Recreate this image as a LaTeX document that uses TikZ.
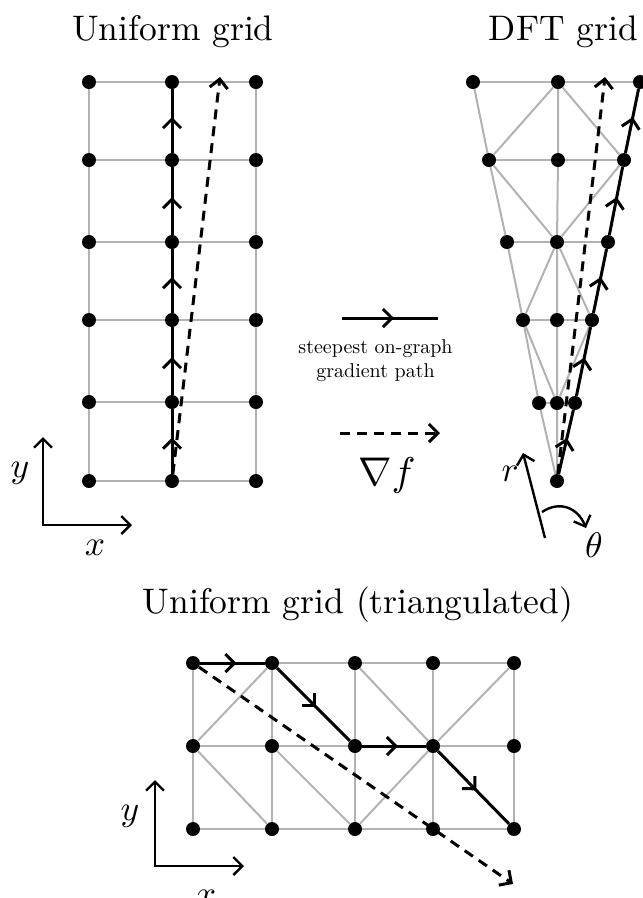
\documentclass[tikz,border=0pt]{standalone}
\usetikzlibrary{arrows.meta,decorations.markings}
\tikzset{
  chev/.tip={Straight Barb[length=9pt,width=18pt]},
  dot/.style={circle,fill=black,inner sep=0pt,minimum size=14pt},
  edge/.style={draw=black!30,line width=2pt},
  route/.style={draw=black,line width=3pt},
  midmark/.style={postaction={decorate},decoration={markings,mark=at position 0.5 with {\arrow[xshift=4pt]{chev}}}},
  dashline/.style={draw=black,line width=3pt,dash pattern=on 10pt off 7pt,-{chev}},
  axis/.style={draw=black,line width=2.4pt},
  ttl/.style={font=\normalsize,scale=3.55,inner sep=0pt},
  mlab/.style={font=\normalsize,scale=3.55,inner sep=0pt},
  legtext/.style={font=\normalsize,scale=2.0,align=center,inner sep=0pt},
}
\begin{document}
\begin{tikzpicture}[x=1pt,y=-1pt]
\useasboundingbox (0,0) rectangle (643,898);

% ---------- titles
\node[ttl,anchor=base] (title1) at (173,40) {Uniform grid};
\node[ttl,anchor=base] (title2) at (563.5,40) {DFT grid};
\node[ttl,anchor=base] (title3) at (358,613) {Uniform grid (triangulated)};

% ---------- uniform grid
\foreach \c/\x in {a/89,b/172,c/256}
  \foreach \r/\y in {1/82,2/160,3/242,4/320,5/402,6/481}
    \node[dot] (u\c\r) at (\x,\y) {};
\foreach \r in {1,...,6}
  \draw[edge] (ua\r) -- (ub\r) -- (uc\r);
\foreach \c in {a,b,c}
  \foreach \r/\s in {1/2,2/3,3/4,4/5,5/6}
    \draw[edge] (u\c\r) -- (u\c\s);
\foreach \r/\s in {6/5,5/4,4/3,3/2,2/1}
  \draw[route,midmark] (ub\r) -- (ub\s);
\coordinate (utip) at (220,77);
\draw[dashline] (ub6) -- (utip);

% axes (top left)
\coordinate (ao) at (43,525);
\coordinate (ay) at (43,437);
\coordinate (ax) at (132,525);
\draw[axis,{chev}-{chev}] (ay) -- (ao) -- (ax);
\node[mlab] (ylab) at (20,473) {$y$};
\node[mlab] (xlab) at (95,548) {$x$};

% ---------- DFT grid
\node[dot] (d1L) at (473,82) {};
\node[dot] (d1C) at (558,82) {};
\node[dot] (d1R) at (640,82) {};
\node[dot] (d2L) at (489,160) {};
\node[dot] (d2C) at (558,160) {};
\node[dot] (d2R) at (624,160) {};
\node[dot] (d3L) at (507,242) {};
\node[dot] (d3C) at (557,242) {};
\node[dot] (d3R) at (608,242) {};
\node[dot] (d4L) at (523,320) {};
\node[dot] (d4C) at (557,320) {};
\node[dot] (d4R) at (592,320) {};
\node[dot] (d5L) at (539,403) {};
\node[dot] (d5C) at (557,403) {};
\node[dot] (d5R) at (575,403) {};
\node[dot] (d6) at (557,481) {};
\foreach \r in {1,...,5}
  \draw[edge] (d\r L) -- (d\r C) -- (d\r R);
\draw[edge] (d1L) -- (d2L) -- (d3L) -- (d4L) -- (d5L) -- (d6);
\draw[edge] (d1C) -- (d2C) -- (d3C) -- (d4C) -- (d5C) -- (d6);
\draw[edge] (d1R) -- (d2R) -- (d3R) -- (d4R) -- (d5R) -- (d6);
\draw[edge] (d2L) -- (d1C) -- (d2R);
\draw[edge] (d2L) -- (d3C) -- (d2R);
\draw[edge] (d4L) -- (d3C) -- (d4R);
\draw[edge] (d4L) -- (d5C) -- (d4R);
\draw[route,midmark] (d6) -- (d5R);
\draw[route,midmark] (d5R) -- (d4R);
\draw[route,midmark] (d4R) -- (d3R);
\draw[route,midmark] (d3R) -- (d2R);
\draw[route,midmark] (d2R) -- (d1R);
\coordinate (dtip) at (605,77);
\draw[dashline] (d6) -- (dtip);

% polar axes
\coordinate (rb) at (545,538);
\coordinate (rt) at (523,453);
\draw[axis,-{chev}] (rb) -- (rt);
\coordinate (th0) at (542,512);
\coordinate (th1) at (586,528);
\draw[axis,-{chev}] (th0) .. controls (560,500) and (578,508) .. (th1);
\node[mlab] (rlab) at (510,474) {$r$};
\node[mlab] (thlab) at (594,545) {$\theta$};

% ---------- legend
\coordinate (ls0) at (342,318);
\coordinate (ls1) at (438,318);
\draw[route,midmark] (ls0) -- (ls1);
\node[legtext] (legt) at (375.5,361) {steepest on-graph\\gradient path};
\coordinate (ld0) at (340,433);
\coordinate (ld1) at (440,433);
\draw[dashline] (ld0) -- (ld1);
\node[mlab,scale=1.13] (grad) at (387,475) {$\nabla f$};

% ---------- triangulated uniform grid
\foreach \c/\x in {1/193,2/272,3/355,4/433,5/514}
  \foreach \r/\y in {1/663,2/746,3/829}
    \node[dot] (t\c\r) at (\x,\y) {};
\foreach \r in {1,2,3}
  \draw[edge] (t1\r) -- (t2\r) -- (t3\r) -- (t4\r) -- (t5\r);
\foreach \c in {1,...,5}
  \draw[edge] (t\c1) -- (t\c2) -- (t\c3);
\draw[edge] (t21) -- (t12) -- (t23);
\draw[edge] (t21) -- (t32);
\draw[edge] (t22) -- (t33);
\draw[edge] (t31) -- (t42) -- (t33);
\draw[edge] (t51) -- (t42) -- (t53);
\draw[route,midmark] (t11) -- (t21);
\draw[route,midmark] (t21) -- (t32);
\draw[route,midmark] (t32) -- (t42);
\draw[route,midmark] (t42) -- (t53);
\coordinate (ttip) at (513,884);
\draw[dashline] (t11) -- (ttip);

% axes (bottom)
\coordinate (bo) at (155,866);
\coordinate (by) at (155,780);
\coordinate (bx) at (244,866);
\draw[axis,{chev}-{chev}] (by) -- (bo) -- (bx);
\node[mlab] (ylab2) at (130,816) {$y$};
\node[mlab] (xlab2) at (206,898) {$x$};
\end{tikzpicture}
\end{document}
